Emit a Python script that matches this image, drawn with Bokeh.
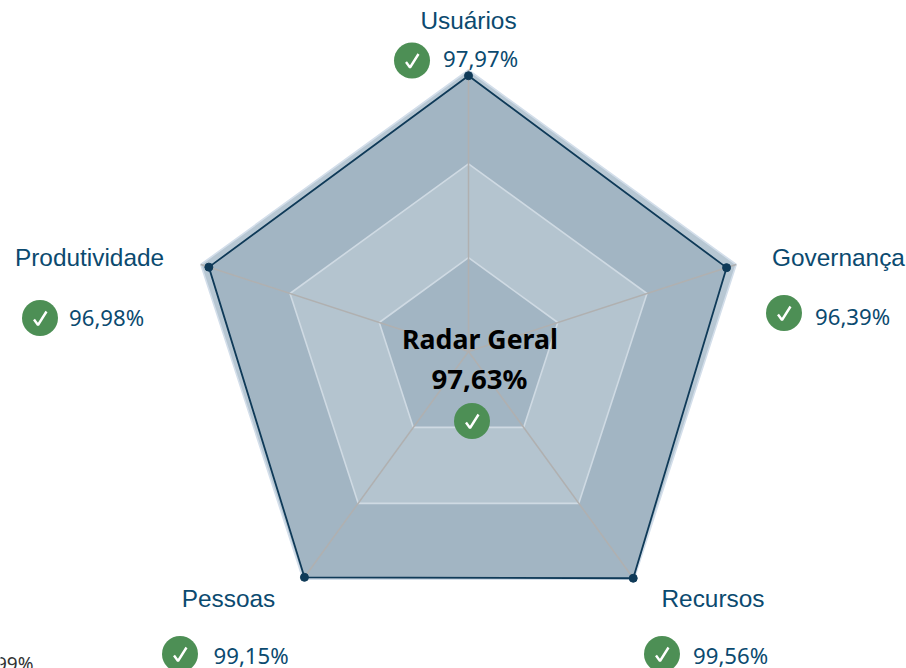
from bokeh.plotting import figure
from bokeh.core.properties import value
from bokeh.embed import file_html
from bokeh.resources import INLINE
import numpy as np

categories = ["Usuários", "Governança", "Recursos", "Pessoas", "Produtividade"]
series_values = [97.97, 96.39, 99.56, 99.15, 96.98]
value_labels = ["97,97%", "96,39%", "99,56%", "99,15%", "96,98%"]
band_levels = [100 / 3, 200 / 3, 100]
center_title = "Radar Geral"
center_value = "97,63%"
stray_label = "99%"

W, H = 906, 668
CX, CY, SCALE = 468.0, 351.0, 2.815
NAVY, LABEL = "#0f3a58", "#0b4a6f"
GREEN = "#4d8f55"

label_pos = [(468, 20), (838, 257), (712.5, 598), (228, 598), (89, 257)]
value_pos = [(442.5, 58), (814.5, 316), (692.5, 654.5), (213, 654.5), (68.5, 317)]
icon_pos = [(411.5, 60), (783.5, 312.5), (661.5, 653.5), (179.5, 653.5), (39.5, 317.5), (471.5, 420.5)]

angles = np.pi / 2 - np.arange(5) * 2 * np.pi / 5


def polar(vals):
    r = np.asarray(vals, dtype=float) * SCALE
    return list(CX + r * np.cos(angles)), list(CY - r * np.sin(angles))


p = figure(width=W, height=H, x_range=(0, W), y_range=(H, 0), toolbar_location=None,
           output_backend="svg", min_border=0, outline_line_color=None,
           background_fill_color="white", border_fill_color=None)
p.styles = {"position": "absolute", "left": "0px", "top": "0px"}
p.axis.visible = False
p.grid.visible = False

ox, oy = polar([band_levels[2]] * 5)
p.patch(ox, oy, fill_color="#b7c7d3", line_color="#d3deea", line_width=1.6)
dx, dy = polar(series_values)
p.patch(dx, dy, fill_color="#a2b5c3", line_color=None)
mx, my = polar([band_levels[1]] * 5)
p.patch(mx, my, fill_color="#b4c4cf", line_color="#cfdae3", line_width=1.6)
ix, iy = polar([band_levels[0]] * 5)
p.patch(ix, iy, fill_color="#a2b5c3", line_color="#cfdae3", line_width=1.6)
p.multi_line([[CX, x] for x in ox], [[CY, y] for y in oy], line_color="#b0b0b0", line_width=1.5)
p.patch(dx, dy, fill_color=None, line_color=NAVY, line_width=1.8)
p.scatter(dx, dy, size=8, fill_color=NAVY, line_color=NAVY)

p.text([q[0] for q in label_pos], [q[1] for q in label_pos], text=categories,
       text_font=value("Liberation Sans"), text_font_size="24.4px", text_color=LABEL,
       text_align="center", text_baseline="middle")
p.text([q[0] for q in value_pos], [q[1] for q in value_pos], text=value_labels,
       text_font=value("Noto Sans"), text_font_size="22.2px", text_color=LABEL,
       text_align="left", text_baseline="middle")
p.text([479.5], [338], text=[center_title], text_font=value("Noto Sans"), text_font_size="26.7px",
       text_font_style="bold", text_color="black", text_align="center", text_baseline="middle")
p.text([479], [377], text=[center_value], text_font=value("Noto Sans"), text_font_size="27.6px",
       text_font_style="bold", text_color="black", text_align="center", text_baseline="middle")
p.text([33], [663], text=[stray_label], text_font=value("Noto Sans"), text_font_size="19px",
       text_color="#333333", text_align="right", text_baseline="middle")

p.circle([q[0] for q in icon_pos], [q[1] for q in icon_pos], radius=18, fill_color=GREEN, line_color=None)
p.multi_line([[q[0] - 6, q[0] - 2, q[0] + 6.5] for q in icon_pos],
             [[q[1] + 1.5, q[1] + 7, q[1] - 6.5] for q in icon_pos],
             line_color="white", line_width=2.4)

open("out.html", "w").write(file_html(p, INLINE))
